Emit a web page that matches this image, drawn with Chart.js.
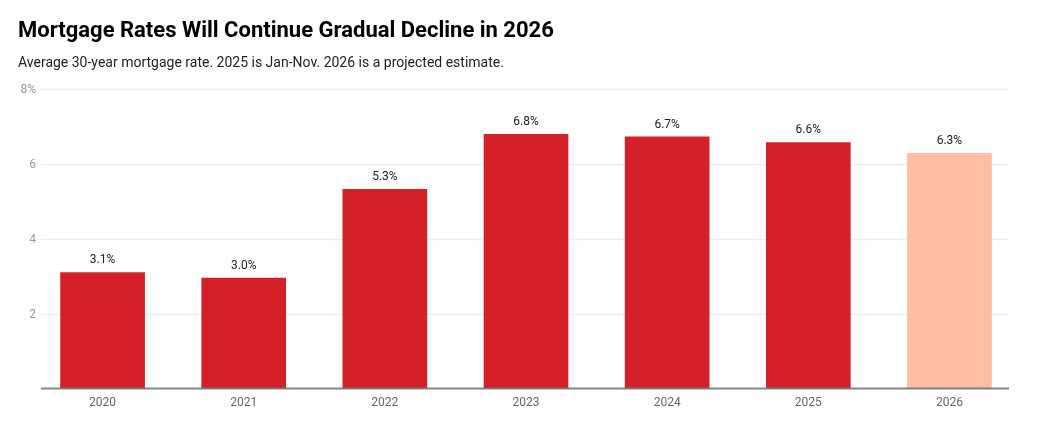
<!DOCTYPE html>
<html>
<head>
<meta charset="utf-8">
<script src="https://cdn.jsdelivr.net/npm/chart.js@4.4.1/dist/chart.umd.min.js"></script>
<style>
  html, body { margin: 0; padding: 0; background: #fff; }
  #wrap { position: relative; width: 1037px; height: 431px; overflow: hidden; }
  #title { position: absolute; left: 18px; top: 17px; font-family: Roboto, sans-serif; font-weight: 700; font-size: 22px; color: #000; white-space: nowrap; }
  #sub { position: absolute; left: 18px; top: 54px; font-family: Roboto, sans-serif; font-size: 14px; color: #222; white-space: nowrap; }
  #c { position: absolute; left: 0; top: 0; }
</style>
</head>
<body>
<div id="wrap">
  <canvas id="c" width="1037" height="431"></canvas>
  <div id="title">Mortgage Rates Will Continue Gradual Decline in 2026</div>
  <div id="sub">Average 30-year mortgage rate. 2025 is Jan-Nov. 2026 is a projected estimate.</div>
</div>
<script>
const categories = ["2020", "2021", "2022", "2023", "2024", "2025", "2026"];
const rates = [3.11, 2.96, 5.33, 6.80, 6.73, 6.58, 6.29];
const barColors = ["#d32029", "#d32029", "#d32029", "#d32029", "#d32029", "#d32029", "#ffbea1"];
const yTicks = [2, 4, 6, 8];
const yTickLabels = ["2", "4", "6", "8%"];
const yMax = 8;

const decor = {
  id: 'decor',
  beforeDatasetsDraw(chart) {
    const ctx = chart.ctx, y = chart.scales.y, a = chart.chartArea;
    ctx.save();
    ctx.strokeStyle = '#eeeeee';
    ctx.lineWidth = 1.5;
    ctx.fillStyle = '#9a9a9a';
    ctx.font = '12px Roboto, sans-serif';
    ctx.textAlign = 'right';
    ctx.textBaseline = 'middle';
    yTicks.forEach((v, i) => {
      const py = Math.round(y.getPixelForValue(v)) + 0.5;
      ctx.beginPath(); ctx.moveTo(a.left + 9, py); ctx.lineTo(a.right - 11, py); ctx.stroke();
      ctx.fillText(yTickLabels[i], a.left + 4, py);
    });
    ctx.restore();
  },
  afterDatasetsDraw(chart) {
    const ctx = chart.ctx, y = chart.scales.y, a = chart.chartArea;
    ctx.save();
    ctx.strokeStyle = 'rgba(110,110,110,0.85)';
    ctx.lineWidth = 2;
    const py = y.getPixelForValue(0);
    ctx.beginPath(); ctx.moveTo(a.left + 9, py); ctx.lineTo(a.right - 11, py); ctx.stroke();
    const meta = chart.getDatasetMeta(0);
    ctx.fillStyle = '#222';
    ctx.font = '12px Roboto, sans-serif';
    ctx.textAlign = 'center';
    ctx.textBaseline = 'middle';
    meta.data.forEach((bar, i) => {
      ctx.fillText(rates[i].toFixed(1) + '%', bar.x, bar.y - 12);
    });
    ctx.restore();
  }
};

new Chart(document.getElementById('c'), {
  type: 'bar',
  data: {
    labels: categories,
    datasets: [{
      data: rates,
      backgroundColor: barColors,
      borderWidth: 0,
      barPercentage: 0.6,
      categoryPercentage: 1.0
    }]
  },
  options: {
    responsive: false,
    animation: false,
    devicePixelRatio: 1,
    layout: { padding: { left: 18, right: 17, top: 89, bottom: 14 } },
    plugins: { legend: { display: false }, tooltip: { enabled: false }, title: { display: false } },
    scales: {
      x: {
        grid: { display: false, drawTicks: false },
        border: { display: false },
        ticks: { color: '#666', font: { family: 'Roboto', size: 12 }, padding: 7 }
      },
      y: {
        min: 0, max: yMax,
        afterFit(scale) { scale.width = 14; },
        grid: { display: false, drawTicks: false },
        border: { display: false },
        ticks: { display: false, stepSize: 2 }
      }
    }
  },
  plugins: [decor]
});
</script>
</body>
</html>
